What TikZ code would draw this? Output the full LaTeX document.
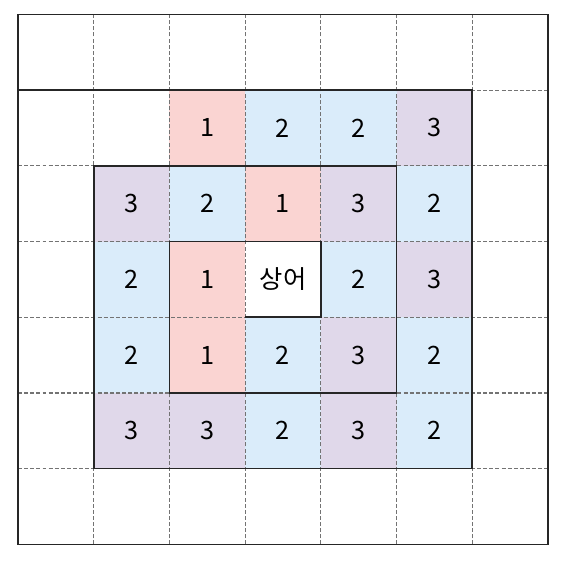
\documentclass[tikz,border=0pt]{standalone}
\usepackage{fontspec}
\setmainfont{Noto Sans CJK KR}
\definecolor{pinkcell}{HTML}{FAD4D2}
\definecolor{bluecell}{HTML}{DAECFA}
\definecolor{purplecell}{HTML}{E0D8EA}
\begin{document}
\begin{tikzpicture}[
  x=1cm,y=-1cm,
  every node/.style={font=\fontsize{9.5}{11}\selectfont,align=center},
  cell/.style={minimum size=1cm,inner sep=0pt},
  grid line/.style={draw=black!55,line width=0.45pt,dash pattern=on 1.5pt off 0.8pt},
  wall/.style={draw=black!85,line width=0.6pt}
]
\useasboundingbox (-0.238,-0.19) rectangle (7.264,7.233);

% sand amounts around the shark
\foreach \r/\c/\k/\v in {1/2/pinkcell/1, 1/3/bluecell/2, 1/4/bluecell/2, 1/5/purplecell/3,
  2/1/purplecell/3, 2/2/bluecell/2, 2/3/pinkcell/1, 2/4/purplecell/3, 2/5/bluecell/2,
  3/1/bluecell/2, 3/2/pinkcell/1, 3/4/bluecell/2, 3/5/purplecell/3,
  4/1/bluecell/2, 4/2/pinkcell/1, 4/3/bluecell/2, 4/4/purplecell/3, 4/5/bluecell/2,
  5/1/purplecell/3, 5/2/purplecell/3, 5/3/bluecell/2, 5/4/purplecell/3, 5/5/bluecell/2}
  \node[cell,fill=\k] (c\r\c) at (\c+0.5,\r+0.5) {\v};
\node[cell,fill=white] (shark) at (3.5,3.5) {상어};

\draw[grid line] (0,0) grid (7,7);
\draw[wall] (0,0) rectangle (7,7);
% spiral
\draw[wall] (3,4) -- (4,4) -- (4,3) -- (2,3) -- (2,5) -- (5,5) -- (5,2)
  -- (1,2) -- (1,6) -- (6,6) -- (6,1) -- (0,1);
\end{tikzpicture}
\end{document}
